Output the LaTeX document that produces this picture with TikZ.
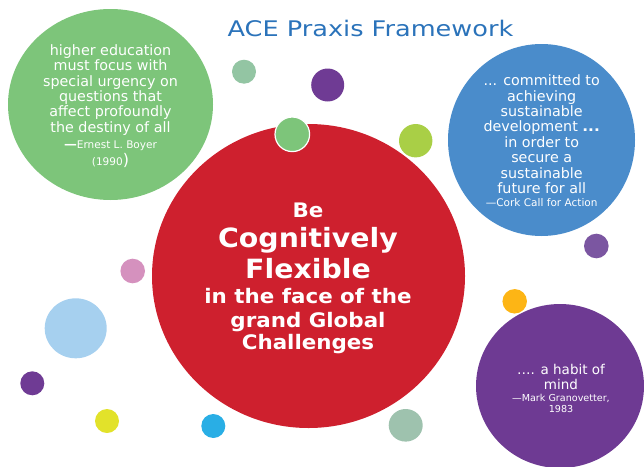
\documentclass[tikz,border=0pt]{standalone}
\usepackage{fontspec}
\setmainfont{DejaVu Sans}[BoldFeatures={FakeStretch=1.07}]
\newfontfamily\titlefont{DejaVu Sans}[FakeStretch=1.19]
\usetikzlibrary{
  shapes.geometric,
}
\definecolor{cTitle}{RGB}{ 43,115,186}
\definecolor{cBoyer}{RGB}{125,197,122}
\definecolor{cCore}{RGB}{206, 32, 46}
\definecolor{cCork}{RGB}{ 74,140,203}
\definecolor{cHabit}{RGB}{110, 58,147}
\definecolor{cSage}{RGB}{147,197,163}
\definecolor{cSageB}{RGB}{158,194,174}
\definecolor{cPlum}{RGB}{111, 59,148}
\definecolor{cLilac}{RGB}{123, 86,161}
\definecolor{cLime}{RGB}{169,207, 70}
\definecolor{cPink}{RGB}{213,145,190}
\definecolor{cSky}{RGB}{166,208,239}
\definecolor{cYellow}{RGB}{226,226, 42}
\definecolor{cCyan}{RGB}{ 41,174,229}
\definecolor{cOrange}{RGB}{253,181, 21}
\tikzset{
  % Big quote bubble
  bubble/.style={
    ellipse, fill=#1, draw=none, inner sep=0pt,
  },
  % Small decorative dot
  dot/.style={
    circle, fill=#1, draw=none, inner sep=0pt,
  },
  % Quote text
  quote/.style={
    text=white, align=center, inner sep=0pt,
    font=\fontsize{14.3}{15.4}\selectfont,
  },
  % Core message
  core/.style={
    text=white, align=center, inner sep=0pt,
    font=\bfseries\fontsize{20}{24}\selectfont,
  },
}
\newcommand{\srcfont}{\fontsize{10.5}{12}\selectfont}

\begin{document}
\begin{tikzpicture}[x=1pt, y=-1pt]

\useasboundingbox (0,0) rectangle (644,466);

% ── Title ─────────────────────────────────────────────────────────────────────
\node[
  anchor=base, inner sep=0pt, text=cTitle,
  font=\titlefont\fontsize{21.5}{24}\selectfont,
] (title) at (370.5,36.7) {ACE Praxis Framework};

% ── Big bubbles ───────────────────────────────────────────────────────────────
\node[bubble=cBoyer, minimum width=205pt, minimum height=191pt]
  (boyer) at (110.5,104.5) {};
\node[bubble=cCore, minimum width=313pt, minimum height=304pt]
  (core) at (308.5,276) {};
\node[bubble=cCork, minimum width=187pt, minimum height=192pt]
  (cork) at (541.5,140) {};
\node[bubble=cHabit, minimum width=168pt, minimum height=164pt]
  (habit) at (560,386) {};

% ── Small dots ────────────────────────────────────────────────────────────────
\node[dot=cSage,   minimum size=24pt]   (d1)  at (244,71.7) {};
\node[dot=cPlum,   minimum size=33pt]   (d2)  at (327.7,85) {};
\node[dot=cLime,   minimum size=33.4pt] (d3)  at (415.7,140.7) {};
\node[dot=cLilac,  minimum size=24.6pt] (d4)  at (596.3,246) {};
\node[dot=cOrange, minimum size=24.5pt] (d5)  at (514.7,301.3) {};
\node[dot=cPink,   minimum size=24.6pt] (d6)  at (132.7,271) {};
\node[dot=cSky, ellipse, minimum width=62pt, minimum height=60pt]
  (d7) at (75.7,328.3) {};
\node[dot=cPlum,   minimum size=24pt]   (d8)  at (32.3,383.3) {};
\node[dot=cYellow, minimum size=24pt]   (d9)  at (107,421) {};
\node[dot=cCyan,   minimum size=24pt]   (d10) at (213.3,426) {};
\node[dot=cSageB, ellipse, minimum width=34pt, minimum height=32.6pt]
  (d11) at (405.7,425.3) {};
\node[dot=cBoyer, draw=white, line width=1.2pt, minimum size=34.6pt]
  (d12) at (292.3,134.3) {};

% ── Quotes ────────────────────────────────────────────────────────────────────
\node[quote] (boyertxt) at (110.5,105.8) {
  higher education\\ must focus with\\ special urgency on\\
  questions that\\ affect profoundly\\ the destiny of all\\[0.3pt]
  {\fontsize{12}{12}\selectfont\bfseries ---}{\srcfont Ernest L. Boyer}\\[1.6pt]
  {\srcfont (1990}{\fontsize{16}{16}\selectfont )}
};

\node[quote] (corktxt) at (541.7,140.9) {
  ... committed to\\ achieving\\ sustainable\\ development \textbf{...}\\
  in order to\\ secure a\\ sustainable\\ future for all\\[-2pt]
  {\srcfont ---Cork Call for Action}
};

\node[quote, font=\fontsize{13.5}{15}\selectfont] (habittxt) at (561,388.9) {
  \dots. a habit of\\ mind\\[-3.3pt]
  {\fontsize{9.6}{11}\selectfont ---Mark Granovetter,}\\[-3.7pt]
  {\fontsize{9.6}{11}\selectfont 1983}
};

% ── Core message ──────────────────────────────────────────────────────────────
\node[core] (coretxt) at (308,278.2) {
  Be\\[6pt]
  {\fontsize{26.5}{30}\selectfont Cognitively}\\[4pt]
  {\fontsize{26.5}{30}\selectfont Flexible}\\[1pt]
  in the face of the\\ grand Global\\[-2pt] Challenges
};

\end{tikzpicture}
\end{document}
